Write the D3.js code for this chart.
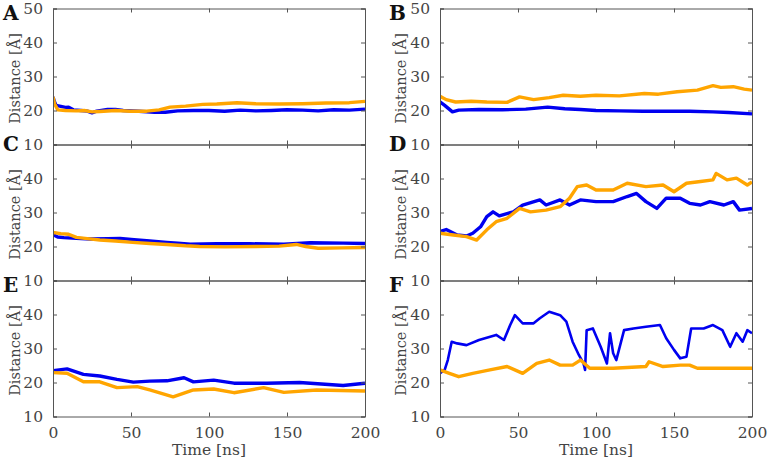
<!DOCTYPE html>
<html><head><meta charset="utf-8">
<script src="https://cdn.jsdelivr.net/npm/d3@7"></script>
<style>body{margin:0;background:#fff}svg{display:block}svg text{font-family:"DejaVu Serif",serif !important;fill:#444}</style>
</head><body><svg id="c" width="767" height="460"></svg>
<script>
// ---- data: [time ns, distance Å] ----
const panelLetters = ["A","B","C","D","E","F"];
const xTicks = [0,50,100,150,200];
const yTicks = [10,20,30,40,50];
const aBlue = [[0,24],[1,22.5],[2,21.5],[5,21.2],[8,20.9],[10,21],[13,20.2],[18,20],[22,19.8],[25,19.3],[28,19.8],[35,20.3],[40,20.3],[45,20],[55,19.8],[65,19.5],[72,19.5],[80,19.9],[90,20],[100,20],[110,19.8],[120,20.1],[130,19.9],[140,20],[150,20.2],[160,20.1],[170,19.9],[180,20.2],[190,20.1],[200,20.4]];
const aOrange = [[0,24],[1,22],[3,20.2],[8,20],[15,19.9],[20,20],[25,19.6],[30,19.7],[40,20],[50,19.8],[60,19.8],[68,20.2],[75,21],[85,21.3],[96,21.8],[105,21.9],[118,22.3],[130,22],[145,21.9],[160,22],[175,22.2],[190,22.3],[200,22.7]];
const bBlue = [[0,22.5],[3,21.5],[8,19.6],[12,20.1],[25,20.3],[40,20.2],[55,20.4],[69,21],[80,20.5],[90,20.3],[100,20],[115,19.9],[130,19.8],[145,19.8],[160,19.8],[175,19.6],[185,19.4],[200,19]];
const bOrange = [[0,24.2],[4,23.2],[10,22.5],[20,22.7],[30,22.5],[43,22.4],[51,24],[60,23.2],[70,23.8],[79,24.5],[90,24.2],[100,24.5],[115,24.3],[131,25],[140,24.8],[152,25.5],[165,26],[175,27.3],[180,26.8],[188,27],[195,26.3],[200,26]];
const cBlue = [[0,23.5],[3,22.8],[7,22.6],[15,22.4],[24,22.2],[35,22.3],[43,22.4],[52,22],[62,21.6],[73,21.2],[80,21],[88,20.7],[105,20.8],[126,20.8],[148,20.7],[165,21.1],[186,21],[200,20.9]];
const cOrange = [[0,24.1],[5,23.8],[10,23.6],[15,22.7],[22,22.3],[30,21.9],[40,21.6],[51,21.2],[62,20.9],[73,20.6],[85,20.2],[94,20],[110,19.9],[130,20],[145,20.1],[156,20.6],[162,20],[170,19.5],[185,19.6],[200,19.7]];
const dBlue = [[0,24.4],[4,25],[11,23.4],[17,23.1],[21,23.9],[26,25.8],[30,28.8],[34,30.2],[38,29],[47,30.2],[53,32.2],[64,33.7],[68,32.2],[77,33.7],[83,32.2],[90,33.7],[100,33.2],[111,33.2],[120,34.7],[126,35.6],[132,33.2],[139,31.2],[145,34.2],[154,34.2],[160,32.7],[167,32.2],[173,33.2],[182,32.2],[188,33.2],[192,30.7],[200,31.2]];
const dOrange = [[0,23.9],[8.5,23.4],[17,22.9],[23.5,21.9],[30,24.9],[36,27.3],[43,28.3],[51,31.2],[58,30.2],[68,30.7],[77,31.7],[83,34.2],[88,37.6],[94,38.1],[100,36.6],[111,36.6],[120,38.6],[132,37.6],[143,38.1],[150,36.1],[158,38.6],[167,39.1],[175,39.6],[177,41.5],[184,39.6],[190,40.1],[197,38.1],[200,39]];
const eBlue = [[0,23.5],[9,24],[19.5,22.4],[30,21.9],[41,20.9],[51.5,20.1],[62,20.4],[73,20.5],[84,21.4],[90,20.2],[103,20.7],[116,19.8],[137,19.8],[158,20],[186,19.1],[200,19.8]];
const eOrange = [[0,22.9],[9,22.7],[19.5,20.2],[30,20.2],[41,18.5],[54,18.8],[62,17.8],[77,15.8],[90,17.8],[103,18.1],[116,17],[135,18.5],[148,17.1],[169,17.8],[200,17.5]];
const fBlue = [[0,22.7],[3,23.7],[5,26.6],[7.5,32],[11,31.5],[17,31],[25,32.5],[36,34],[41,32.5],[45,36.9],[48,39.8],[53,37.4],[60,37.4],[64,38.9],[70,40.8],[77,39.8],[81,37.9],[85,32],[89,28.1],[92,25.6],[93,23.7],[94,35.4],[98,35.9],[103,30.5],[107,25.6],[109,34.5],[111,28.6],[113,26.6],[118,35.4],[124,35.9],[132,36.4],[141,36.9],[145,33],[150,29.6],[154,27.1],[158,27.6],[161,35.9],[169,35.9],[175,36.9],[181,35.4],[186,30.5],[190,34.5],[194,32],[197,35.4],[200,34.5]];
const fOrange = [[0,23.7],[6,22.7],[12,21.7],[21,22.7],[32,23.7],[43,24.7],[53,22.7],[62,25.6],[70,26.6],[77,25.1],[85,25.1],[90,26.6],[96,24.2],[111,24.2],[132,24.7],[134,26.1],[143,24.7],[154,25.1],[160,25.1],[165,24.2],[175,24.2],[200,24.2]];
const seriesBlue = [aBlue,bBlue,cBlue,dBlue,eBlue,fBlue];
const seriesOrange = [aOrange,bOrange,cOrange,dOrange,eOrange,fOrange];

// ---- layout ----
const svg = d3.select("#c");
const colX = [[53,365],[440,752]];
const rowTop = [8.5,144.5,280.5], rowH = 136;
const letterBase = [20,151,292];
const letterX = [3,389];
const axisColor = "#555";
const FS = 15.5;

panelLetters.forEach((L,i)=>{
  const col = i%2, row = Math.floor(i/2);
  const x = d3.scaleLinear().domain([0,200]).range(colX[col]);
  const y = d3.scaleLinear().domain([10,50]).range([rowTop[row]+rowH,rowTop[row]]);
  const g = svg.append("g");
  const clipId = "clip"+i;
  svg.append("clipPath").attr("id",clipId).append("rect")
    .attr("x",colX[col][0]).attr("y",rowTop[row]).attr("width",colX[col][1]-colX[col][0]).attr("height",rowH);
  const line = d3.line().x(d=>x(d[0])).y(d=>y(d[1]));
  g.append("path").datum(seriesBlue[i]).attr("d",line).attr("fill","none")
    .attr("stroke","#0000f0").attr("stroke-width",i===5?2.6:3.4).attr("stroke-linejoin","round").attr("clip-path",`url(#${clipId})`);
  g.append("path").datum(seriesOrange[i]).attr("d",line).attr("fill","none")
    .attr("stroke","#ffa500").attr("stroke-width",3.4).attr("stroke-linejoin","round").attr("clip-path",`url(#${clipId})`);

  const yShown = row===0 ? yTicks : yTicks.filter(t=>t<50);
  const left = g.append("g").attr("transform",`translate(${colX[col][0]},0)`)
    .call(d3.axisLeft(y).tickValues(yTicks).tickSize(-4).tickPadding(10).tickFormat(d=>yShown.includes(d)?d:""));
  const right = g.append("g").attr("transform",`translate(${colX[col][1]},0)`)
    .call(d3.axisRight(y).tickValues(yTicks).tickSize(-4).tickFormat(""));
  const top = g.append("g").attr("transform",`translate(0,${rowTop[row]})`)
    .call(d3.axisTop(x).tickValues(xTicks).tickSize(-4).tickFormat(""));
  const bottom = g.append("g").attr("transform",`translate(0,${rowTop[row]+rowH})`)
    .call(d3.axisBottom(x).tickValues(xTicks).tickSize(-4).tickPadding(10).tickFormat(d=>row===2?d:""));
  [left,right,top,bottom].forEach(a=>{
    a.attr("font-family",null).attr("font-size",null);
    a.selectAll("path").attr("stroke",axisColor).attr("stroke-width",1);
    a.selectAll("line").attr("stroke",axisColor);
    a.selectAll("text").style("font-size",FS+"px");
  });

  g.append("text").attr("x",letterX[col]).attr("y",letterBase[row]).text(L)
    .style("font-size","20px").attr("font-weight","bold").style("fill","#111");
  g.append("text").attr("transform",`translate(${letterX[col]+17},${rowTop[row]+rowH/2+2}) rotate(-90)`)
    .attr("text-anchor","middle").style("font-size","14.5px").text("Distance [Å]");
  if(row===2){
    g.append("text").attr("x",(colX[col][0]+colX[col][1])/2).attr("y",455)
      .attr("text-anchor","middle").style("font-size",FS+"px").text("Time [ns]");
  }
});
</script></body></html>
